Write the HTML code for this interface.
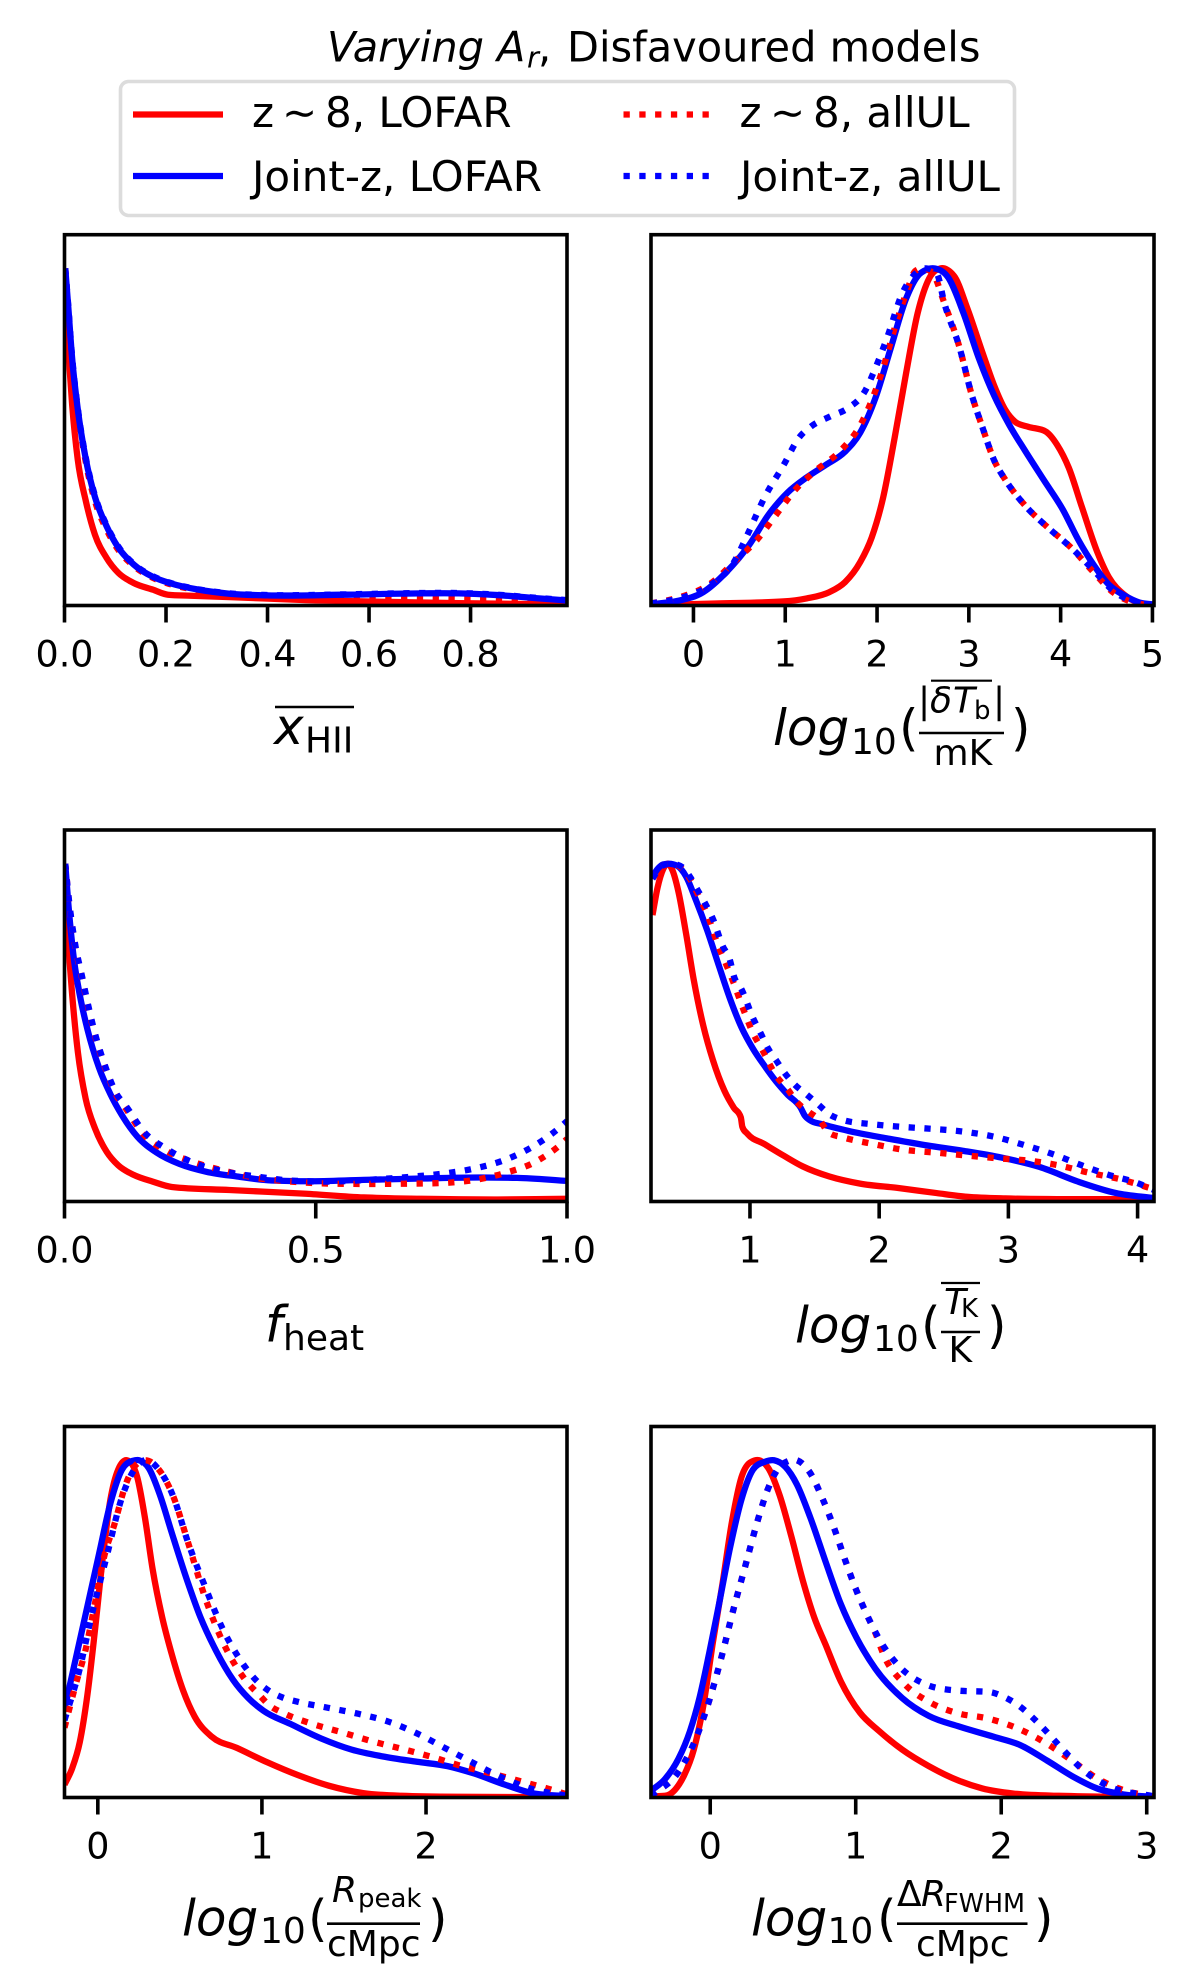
<!DOCTYPE html>
<html lang="en">
<head>
<meta charset="utf-8">
<title>Varying Ar, Disfavoured models</title>
<style>
html,body{margin:0;padding:0;background:#fff;width:1200px;height:1977px;overflow:hidden}
svg{display:block}
text{font-family:"DejaVu Sans","Liberation Sans",sans-serif;fill:#000}
.i{font-style:italic}
</style>
</head>
<body>
<svg id="figure" xmlns="http://www.w3.org/2000/svg" width="1200" height="1977" viewBox="0 0 1200 1977">
  <rect width="1200" height="1977" fill="#fff"/>
  <g id="panels"></g>

  <text y="61.5" font-size="41.5"><tspan class="i" x="327">Varying</tspan><tspan class="i" x="497">A</tspan><tspan class="i" x="527" dy="6" font-size="29">r</tspan><tspan x="538" dy="-6">,</tspan><tspan x="567">Disfavoured models</tspan></text>

  <g>
    <rect x="120.5" y="81.5" width="894" height="134" rx="8" fill="#fff" fill-opacity=".8" stroke="#dcdcdc" stroke-width="3.6"/>
    <g>
      <line x1="133" x2="223" y1="114.5" y2="114.5" stroke="#f00" stroke-width="6.3"/>
      <text y="127" font-size="42"><tspan x="252">z</tspan><tspan x="282">∼</tspan><tspan x="325">8, LOFAR</tspan></text>
    </g>
    <g>
      <line x1="133" x2="223" y1="176" y2="176" stroke="#00f" stroke-width="6.3"/>
      <text x="252" y="191" font-size="42">Joint-z, LOFAR</text>
    </g>
    <g>
      <line x1="623.5" x2="709" y1="114.5" y2="114.5" stroke="#f00" stroke-width="6.3" stroke-dasharray="6.3 9.5"/>
      <text y="127" font-size="42"><tspan x="739.5">z</tspan><tspan x="770">∼</tspan><tspan x="813">8, allUL</tspan></text>
    </g>
    <g>
      <line x1="623.5" x2="709" y1="176" y2="176" stroke="#00f" stroke-width="6.3" stroke-dasharray="6.3 9.5"/>
      <text x="740" y="191" font-size="42">Joint-z, allUL</text>
    </g>
  </g>

  <g>
    <text class="i" x="274" y="744" font-size="50">x</text>
    <text x="305" y="752.7" font-size="36">HII</text>
    <line x1="275" x2="354" y1="707" y2="707" stroke="#000" stroke-width="2.6"/>
  </g>
  <g>
    <text class="i" x="773" y="745" font-size="50">log</text>
    <text x="851" y="754" font-size="36">10</text>
    <text x="899" y="745" font-size="50">(</text>
    <text x="918" y="712.7" font-size="36">|</text>
    <text class="i" x="930" y="712.7" font-size="36">δ</text>
    <text class="i" x="953" y="712.7" font-size="36">T</text>
    <text x="974" y="719" font-size="26">b</text>
    <text x="993" y="712.7" font-size="36">|</text>
    <line x1="931" x2="992" y1="680.7" y2="680.7" stroke="#000" stroke-width="2.2"/>
    <line x1="919" x2="1004" y1="733" y2="733" stroke="#000" stroke-width="2.6"/>
    <text x="933.5" y="765" font-size="36">mK</text>
    <text x="1011" y="745" font-size="50">)</text>
  </g>
  <g>
    <text class="i" x="265" y="1341.5" font-size="50">f</text>
    <text x="283" y="1350" font-size="36">heat</text>
  </g>
  <g>
    <text class="i" x="795" y="1342.7" font-size="50">log</text>
    <text x="873" y="1351" font-size="36">10</text>
    <text x="921" y="1342.7" font-size="50">(</text>
    <text class="i" x="944" y="1314" font-size="36">T</text>
    <text x="961" y="1317" font-size="26">K</text>
    <line x1="941" x2="980" y1="1283" y2="1283" stroke="#000" stroke-width="2.2"/>
    <line x1="941" x2="980" y1="1332" y2="1332" stroke="#000" stroke-width="2.6"/>
    <text x="948.5" y="1362" font-size="36">K</text>
    <text x="987" y="1342.7" font-size="50">)</text>
  </g>
  <g>
    <text class="i" x="182" y="1935.5" font-size="50">log</text>
    <text x="260" y="1943" font-size="36">10</text>
    <text x="308" y="1935.5" font-size="50">(</text>
    <text class="i" x="332" y="1902" font-size="36">R</text>
    <text x="358" y="1907" font-size="26">peak</text>
    <line x1="327" x2="420" y1="1923.7" y2="1923.7" stroke="#000" stroke-width="2.6"/>
    <text x="327" y="1955.8" font-size="36">cMpc</text>
    <text x="428" y="1935.5" font-size="50">)</text>
  </g>
  <g>
    <text class="i" x="751" y="1935.5" font-size="50">log</text>
    <text x="827.5" y="1943" font-size="36">10</text>
    <text x="877" y="1935.5" font-size="50">(</text>
    <text x="897" y="1906" font-size="36">Δ</text>
    <text class="i" x="921" y="1906" font-size="36">R</text>
    <text x="944" y="1912" font-size="25.5">FWHM</text>
    <line x1="897" x2="1027.5" y1="1923.7" y2="1923.7" stroke="#000" stroke-width="2.6"/>
    <text x="916" y="1955.8" font-size="36">cMpc</text>
    <text x="1034" y="1935.5" font-size="50">)</text>
  </g>
</svg>

<script>
// Panel 1: mean ionized fraction
const xhiiTicks = [0, 0.2, 0.4, 0.6, 0.8];
const xhiiTickLabels = ["0.0", "0.2", "0.4", "0.6", "0.8"];
const xhiiLimits = [0, 0.99];
const xhiiRedSolidX = [.0005,.0015,.0075,.015,.026,.042,.06,.083,.106,.136,.174,.204,.249,.325,.475,.626,.777,.99];
const xhiiRedSolidY = [1,.9,.76,.597,.434,.31,.21,.141,.097,.067,.047,.032,.029,.025,.016,.011,.007,.003];
const xhiiBlueSolidX = [.0015,.0075,.015,.026,.042,.06,.083,.106,.136,.174,.211,.264,.325,.4,.551,.702,.777,.853,.928,.99];
const xhiiBlueSolidY = [1,.884,.734,.584,.434,.322,.235,.172,.122,.085,.065,.047,.035,.03,.032,.036,.036,.031,.022,.015];
const xhiiRedDotX = [.0015,.0075,.015,.026,.042,.06,.083,.106,.136,.174,.211,.264,.325,.4,.551,.702,.777,.853,.928,.96];
const xhiiRedDotY = [1,.88,.73,.58,.425,.31,.225,.165,.118,.082,.062,.045,.031,.025,.024,.022,.02,.018,.012,.008];
const xhiiBlueDotX = [.0015,.0075,.015,.026,.042,.06,.083,.106,.136,.174,.211,.264,.325,.4,.551,.702,.777,.853,.928,.99];
const xhiiBlueDotY = [1,.888,.738,.588,.438,.326,.238,.175,.124,.087,.066,.048,.036,.031,.033,.037,.037,.032,.023,.016];

// Panel 2: log10 of the mean brightness temperature
const tbTicks = [0, 1, 2, 3, 4, 5];
const tbTickLabels = ["0", "1", "2", "3", "4", "5"];
const tbLimits = [-0.4625, 5.017];
const tbRedSolidX = [-.4625,.233,.983,1.233,1.483,1.65,1.817,1.942,2.067,2.192,2.317,2.442,2.567,2.69,2.838,2.983,3.15,3.275,3.4,3.504,3.65,3.838,3.963,4.088,4.233,4.4,4.525,4.692,4.858,5.017];
const tbRedSolidY = [.001,.006,.012,.021,.04,.069,.129,.202,.321,.498,.69,.867,.97,1,.978,.882,.749,.653,.579,.545,.53,.516,.476,.409,.291,.158,.084,.032,.007,0];
const tbBlueSolidX = [-.4625,-.183,.108,.358,.608,.817,1.025,1.233,1.442,1.65,1.817,1.983,2.15,2.317,2.483,2.629,2.775,2.942,3.108,3.275,3.442,3.608,3.817,4.025,4.192,4.358,4.525,4.692,4.858,5.017];
const tbBlueSolidY = [.004,.013,.04,.099,.18,.269,.335,.38,.417,.456,.513,.616,.764,.911,.988,1,.973,.867,.734,.623,.535,.461,.372,.284,.195,.121,.062,.03,.009,.003];
const tbRedDotX = [-.4625,-.142,.192,.442,.692,.9,1.108,1.317,1.608,1.817,1.963,2.067,2.192,2.317,2.42,2.504,2.608,2.733,2.9,3.025,3.15,3.275,3.4,3.608,3.858,4.108,4.358,4.567,4.817,5.017];
const tbRedDotY = [.006,.025,.066,.129,.195,.269,.343,.397,.461,.535,.623,.705,.823,.926,.993,1,.985,.897,.764,.631,.527,.431,.372,.298,.232,.173,.099,.04,.007,0];
const tbBlueDotX = [-.4625,-.142,.192,.442,.588,.775,.983,1.15,1.275,1.483,1.692,1.858,1.983,2.108,2.275,2.442,2.525,2.65,2.733,2.9,3.025,3.15,3.275,3.4,3.608,3.858,4.108,4.358,4.567,4.817,5.017];
const tbBlueDotY = [.006,.022,.062,.129,.21,.321,.417,.498,.53,.56,.587,.631,.705,.793,.926,.99,1,.985,.897,.764,.631,.527,.431,.372,.298,.232,.173,.105,.045,.01,.002];

// Panel 3: heated fraction
const fheatTicks = [0, 0.5, 1];
const fheatTickLabels = ["0.0", "0.5", "1.0"];
const fheatLimits = [0, 1];
const fheatRedSolidX = [.0005,.0015,.0076,.0153,.0267,.042,.0611,.084,.1069,.1374,.1756,.2137,.3282,.4809,.5954,.7099,.8626,1];
const fheatRedSolidY = [1,.9,.76,.611,.441,.305,.215,.147,.107,.079,.059,.043,.034,.023,.012,.008,.006,.008];
const fheatBlueSolidX = [.0015,.0076,.0191,.0305,.0458,.0687,.0916,.1145,.145,.1832,.229,.2824,.3435,.4046,.4809,.5954,.7099,.8244,.9008,1];
const fheatBlueSolidY = [1,.882,.713,.611,.509,.396,.317,.255,.192,.145,.111,.088,.074,.063,.06,.064,.068,.071,.07,.061];
const fheatRedDotX = [.0015,.0092,.0214,.0344,.0473,.0611,.0802,.1031,.1221,.1565,.2061,.252,.3206,.3817,.4504,.5267,.6031,.6947,.7557,.8168,.8779,.9313,.9847,1];
const fheatRedDotY = [1,.885,.755,.665,.575,.49,.4,.315,.275,.2,.147,.119,.09,.07,.059,.053,.052,.053,.055,.064,.085,.113,.165,.185];
const fheatBlueDotX = [.0015,.0092,.0214,.0344,.0473,.0611,.0802,.1031,.1221,.1565,.2061,.2595,.3206,.3817,.4504,.5267,.6031,.6947,.7557,.8168,.8779,.9313,.9847,1];
const fheatBlueDotY = [1,.888,.76,.67,.58,.495,.404,.32,.283,.209,.153,.113,.088,.074,.062,.059,.064,.074,.083,.098,.124,.162,.218,.238];

// Panel 4: log10 of the kinetic temperature
const tkTicks = [1, 2, 3, 4];
const tkTickLabels = ["1", "2", "3", "4"];
const tkLimits = [0.234, 4.127];
const tkRedSolidX = [.2456,.284,.328,.367,.402,.447,.506,.565,.639,.713,.802,.876,.929,.941,.979,1.112,1.26,1.408,1.615,1.852,2.148,2.444,2.68,2.976,3.39,4.127];
const tkRedSolidY = [.848,.928,.984,1,.979,.916,.792,.656,.52,.419,.328,.277,.249,.221,.201,.17,.136,.104,.074,.053,.04,.025,.014,.009,.007,.007];
const tkBlueSolidX = [.2456,.284,.328,.373,.432,.506,.58,.669,.757,.846,.935,1.024,1.112,1.201,1.29,1.393,1.423,1.467,1.556,1.763,2.059,2.355,2.651,2.947,3.243,3.538,3.834,4.127];
const tkBlueSolidY = [.962,.984,.998,1,.995,.962,.894,.803,.701,.6,.515,.452,.402,.356,.317,.277,.255,.24,.229,.209,.187,.167,.15,.13,.102,.059,.025,.01];
const tkRedDotX = [.2456,.314,.388,.476,.535,.595,.683,.743,.817,.876,.941,1.024,1.098,1.201,1.29,1.364,1.453,1.541,1.609,1.719,1.956,2.192,2.429,2.68,2.917,3.154,3.39,3.627,3.864,4.127];
const tkRedDotY = [.956,.993,1,.986,.956,.911,.837,.769,.701,.645,.577,.498,.447,.373,.333,.294,.266,.24,.204,.19,.17,.153,.145,.136,.128,.121,.107,.085,.066,.036];
const tkBlueDotX = [.2456,.314,.388,.476,.535,.595,.654,.713,.787,.846,.876,.935,1.024,1.083,1.142,1.201,1.26,1.349,1.438,1.527,1.615,1.704,1.941,2.178,2.414,2.651,2.888,3.124,3.361,3.568,3.775,3.982,4.127];
const tkBlueDotY = [.956,.993,1,.99,.962,.922,.882,.837,.758,.713,.667,.628,.543,.498,.452,.419,.385,.345,.317,.288,.258,.243,.229,.221,.215,.207,.192,.167,.138,.107,.079,.057,.034];

// Panel 5: log10 of the peak bubble radius
const rpeakTicks = [0, 1, 2];
const rpeakTickLabels = ["0", "1", "2"];
const rpeakLimits = [-0.203, 2.859];
const rpeakRedSolidX = [-.203,-.156,-.11,-.063,-.016,.03,.077,.124,.177,.24,.287,.334,.392,.45,.52,.59,.695,.847,1.034,1.221,1.407,1.617,1.851,2.201,2.859];
const rpeakRedSolidY = [.038,.087,.164,.306,.502,.71,.884,.972,1,.95,.83,.677,.535,.426,.317,.24,.18,.147,.104,.066,.035,.013,.005,.002,.001];
const rpeakBlueSolidX = [-.203,-.133,-.063,.007,.077,.147,.205,.252,.31,.38,.45,.544,.625,.707,.824,.917,1.01,1.174,1.361,1.547,1.734,1.944,2.131,2.294,2.481,2.667,2.859];
const rpeakBlueSolidY = [.262,.415,.568,.721,.873,.972,.997,1,.977,.895,.786,.644,.535,.448,.349,.295,.257,.218,.175,.142,.122,.106,.093,.071,.038,.011,.004];
const rpeakRedDotX = [-.203,-.133,-.075,-.016,.042,.1,.17,.217,.287,.369,.462,.548,.66,.765,.859,.917,.98,1.046,1.128,1.309,1.489,1.676,1.856,2.037,2.219,2.399,2.586,2.772,2.859];
const rpeakRedDotY = [.207,.338,.437,.579,.721,.808,.928,.977,1,.974,.89,.759,.584,.458,.376,.338,.306,.273,.251,.218,.193,.166,.144,.12,.093,.071,.047,.022,.009];
const rpeakBlueDotX = [-.203,-.11,-.04,.054,.147,.229,.287,.369,.462,.548,.653,.761,.852,.968,1.041,1.123,1.216,1.403,1.589,1.776,1.949,2.114,2.282,2.446,2.632,2.859];
const rpeakBlueDotY = [.229,.382,.535,.715,.89,.977,1,.974,.89,.759,.626,.5,.42,.346,.317,.297,.284,.266,.248,.224,.189,.147,.104,.063,.027,.005];

// Panel 6: log10 of the bubble FWHM
const drTicks = [0, 1, 2, 3];
const drTickLabels = ["0", "1", "2", "3"];
const drLimits = [-0.407, 3.05];
const drRedSolidX = [-.407,-.31,-.244,-.179,-.113,-.047,.018,.084,.15,.215,.281,.334,.399,.478,.557,.636,.714,.793,.898,1.03,1.161,1.319,1.502,1.713,1.87,2.08,2.396,3.05];
const drRedSolidY = [.003,.005,.022,.066,.142,.273,.459,.633,.819,.95,.995,1,.977,.895,.775,.644,.535,.453,.344,.251,.197,.142,.093,.049,.027,.012,.005,.001];
const drBlueSolidX = [-.407,-.31,-.218,-.139,-.074,-.008,.058,.137,.215,.294,.373,.439,.517,.596,.688,.793,.898,1.004,1.135,1.319,1.502,1.713,1.949,2.133,2.317,2.501,2.658,2.842,3.05];
const drBlueSolidY = [.02,.055,.115,.197,.295,.426,.568,.742,.884,.972,.995,1,.98,.928,.83,.699,.573,.475,.382,.295,.242,.21,.18,.155,.109,.06,.027,.009,.002];
const drRedDotX = [-.407,-.218,-.118,-.008,.079,.158,.242,.326,.394,.504,.596,.683,.775,.854,.924,.998,1.082,1.13,1.2,1.332,1.502,1.699,1.91,2.112,2.304,2.488,2.658,2.855,3.05];
const drRedDotY = [.005,.076,.155,.286,.419,.555,.688,.821,.912,.991,1,.965,.883,.796,.708,.621,.537,.493,.415,.338,.284,.25,.234,.205,.162,.109,.057,.02,.002];
const drBlueDotX = [-.407,-.218,-.118,-.008,.079,.158,.242,.326,.394,.504,.596,.683,.775,.854,.924,.998,1.082,1.182,1.313,1.489,1.699,1.915,2.015,2.112,2.27,2.414,2.566,2.742,3.05];
const drBlueDotY = [.005,.076,.155,.286,.419,.555,.688,.821,.912,.991,1,.965,.883,.796,.708,.621,.537,.455,.383,.334,.317,.313,.299,.275,.214,.147,.08,.033,.003];

const densityLimits = [0, 1.1];

const NS = 'http://www.w3.org/2000/svg';
const panelsRoot = document.getElementById('panels');

function makeScale(domain, range) {
  return function (v) {
    return range[0] + (v - domain[0]) / (domain[1] - domain[0]) * (range[1] - range[0]);
  };
}

// Hermite path with three-point tangents, limited so runs stay free of wiggles
function curvePath(xs, ys, sx, sy) {
  const n = xs.length;
  const px = xs.map(sx);
  const py = ys.map(sy);
  const d = [];
  for (let i = 0; i < n - 1; i++) d.push((py[i + 1] - py[i]) / (px[i + 1] - px[i]));
  const m = [d[0]];
  for (let i = 1; i < n - 1; i++) {
    const h0 = px[i] - px[i - 1];
    const h1 = px[i + 1] - px[i];
    let t = (h1 * d[i - 1] + h0 * d[i]) / (h0 + h1);
    if (d[i - 1] * d[i] > 0) {
      const lim = 2.2 * Math.min(Math.abs(d[i - 1]), Math.abs(d[i]));
      if (Math.abs(t) > lim) t = Math.sign(t) * lim;
    }
    m.push(t);
  }
  m.push(d[n - 2]);
  let out = 'M' + px[0].toFixed(2) + ' ' + py[0].toFixed(2);
  for (let i = 0; i < n - 1; i++) {
    const h = (px[i + 1] - px[i]) / 3;
    out += 'C' + (px[i] + h).toFixed(2) + ' ' + (py[i] + m[i] * h).toFixed(2) + ' ' +
      (px[i + 1] - h).toFixed(2) + ' ' + (py[i + 1] - m[i + 1] * h).toFixed(2) + ' ' +
      px[i + 1].toFixed(2) + ' ' + py[i + 1].toFixed(2);
  }
  return out;
}

function drawPanel(cfg) {
  const g = document.createElementNS(NS, 'g');
  
  
  panelsRoot.appendChild(g);

  const sx = makeScale(cfg.xlim, [cfg.left, cfg.right]);
  const sy = makeScale(densityLimits, [cfg.bottom, cfg.top]);

  const clip = document.createElementNS(NS, 'clipPath');
  clip.setAttribute('id', 'clip-' + cfg.name);
  const clipRect = document.createElementNS(NS, 'rect');
  clipRect.setAttribute('x', cfg.left);
  clipRect.setAttribute('y', cfg.top);
  clipRect.setAttribute('width', cfg.right - cfg.left);
  clipRect.setAttribute('height', cfg.bottom - cfg.top);
  clip.appendChild(clipRect);
  g.appendChild(clip);

  const lines = document.createElementNS(NS, 'g');
  lines.setAttribute('clip-path', 'url(#clip-' + cfg.name + ')');
  
  
  g.appendChild(lines);

  cfg.series.forEach(function (s) {
    const p = document.createElementNS(NS, 'path');
    p.setAttribute('d', curvePath(s.x, s.y, sx, sy));
    p.setAttribute('fill', 'none');
    p.setAttribute('stroke', s.color);
    p.setAttribute('stroke-width', '6.3');
    p.setAttribute('stroke-linejoin', 'round');
    if (s.dotted) p.setAttribute('stroke-dasharray', '6.3 9.5');
    
    
    lines.appendChild(p);
  });

  cfg.ticks.forEach(function (t, i) {
    const x = sx(t);
    const tick = document.createElementNS(NS, 'line');
    tick.setAttribute('x1', x);
    tick.setAttribute('x2', x);
    tick.setAttribute('y1', cfg.bottom);
    tick.setAttribute('y2', cfg.bottom + 17);
    tick.setAttribute('stroke', '#000');
    tick.setAttribute('stroke-width', '3.6');
    
    
    g.appendChild(tick);
    const label = document.createElementNS(NS, 'text');
    label.setAttribute('x', x);
    label.setAttribute('y', cfg.bottom + 61);
    label.setAttribute('font-size', '36.5');
    label.setAttribute('text-anchor', 'middle');
    
    
    label.textContent = cfg.tickLabels[i];
    g.appendChild(label);
  });

  const frame = document.createElementNS(NS, 'rect');
  frame.setAttribute('x', cfg.left);
  frame.setAttribute('y', cfg.top);
  frame.setAttribute('width', cfg.right - cfg.left);
  frame.setAttribute('height', cfg.bottom - cfg.top);
  frame.setAttribute('fill', 'none');
  frame.setAttribute('stroke', '#000');
  frame.setAttribute('stroke-width', '3.6');
  
  
  g.appendChild(frame);
}

const RED = '#ff0000';
const BLUE = '#0000ff';

drawPanel({
  name: 'xhii', left: 64.5, right: 567, top: 234.7, bottom: 605.5,
  xlim: xhiiLimits, ticks: xhiiTicks, tickLabels: xhiiTickLabels,
  series: [
    {label: 'z8-lofar', color: RED, x: xhiiRedSolidX, y: xhiiRedSolidY},
    {label: 'z8-allul', color: RED, dotted: true, x: xhiiRedDotX, y: xhiiRedDotY},
    {label: 'joint-lofar', color: BLUE, x: xhiiBlueSolidX, y: xhiiBlueSolidY},
    {label: 'joint-allul', color: BLUE, dotted: true, x: xhiiBlueDotX, y: xhiiBlueDotY}
  ]
});
drawPanel({
  name: 'delta-tb', left: 651, right: 1154, top: 234.7, bottom: 605.5,
  xlim: tbLimits, ticks: tbTicks, tickLabels: tbTickLabels,
  series: [
    {label: 'z8-lofar', color: RED, x: tbRedSolidX, y: tbRedSolidY},
    {label: 'joint-lofar', color: BLUE, x: tbBlueSolidX, y: tbBlueSolidY},
    {label: 'z8-allul', color: RED, dotted: true, x: tbRedDotX, y: tbRedDotY},
    {label: 'joint-allul', color: BLUE, dotted: true, x: tbBlueDotX, y: tbBlueDotY}
  ]
});
drawPanel({
  name: 'fheat', left: 64.5, right: 567, top: 830, bottom: 1201.5,
  xlim: fheatLimits, ticks: fheatTicks, tickLabels: fheatTickLabels,
  series: [
    {label: 'z8-lofar', color: RED, x: fheatRedSolidX, y: fheatRedSolidY},
    {label: 'joint-lofar', color: BLUE, x: fheatBlueSolidX, y: fheatBlueSolidY},
    {label: 'z8-allul', color: RED, dotted: true, x: fheatRedDotX, y: fheatRedDotY},
    {label: 'joint-allul', color: BLUE, dotted: true, x: fheatBlueDotX, y: fheatBlueDotY}
  ]
});
drawPanel({
  name: 'tk', left: 651, right: 1154, top: 830, bottom: 1201.5,
  xlim: tkLimits, ticks: tkTicks, tickLabels: tkTickLabels,
  series: [
    {label: 'z8-lofar', color: RED, x: tkRedSolidX, y: tkRedSolidY},
    {label: 'joint-lofar', color: BLUE, x: tkBlueSolidX, y: tkBlueSolidY},
    {label: 'z8-allul', color: RED, dotted: true, x: tkRedDotX, y: tkRedDotY},
    {label: 'joint-allul', color: BLUE, dotted: true, x: tkBlueDotX, y: tkBlueDotY}
  ]
});
drawPanel({
  name: 'rpeak', left: 64.5, right: 567, top: 1426.5, bottom: 1797.5,
  xlim: rpeakLimits, ticks: rpeakTicks, tickLabels: rpeakTickLabels,
  series: [
    {label: 'z8-lofar', color: RED, x: rpeakRedSolidX, y: rpeakRedSolidY},
    {label: 'joint-lofar', color: BLUE, x: rpeakBlueSolidX, y: rpeakBlueSolidY},
    {label: 'z8-allul', color: RED, dotted: true, x: rpeakRedDotX, y: rpeakRedDotY},
    {label: 'joint-allul', color: BLUE, dotted: true, x: rpeakBlueDotX, y: rpeakBlueDotY}
  ]
});
drawPanel({
  name: 'dr-fwhm', left: 651, right: 1154, top: 1426.5, bottom: 1797.5,
  xlim: drLimits, ticks: drTicks, tickLabels: drTickLabels,
  series: [
    {label: 'z8-lofar', color: RED, x: drRedSolidX, y: drRedSolidY},
    {label: 'joint-lofar', color: BLUE, x: drBlueSolidX, y: drBlueSolidY},
    {label: 'z8-allul', color: RED, dotted: true, x: drRedDotX, y: drRedDotY},
    {label: 'joint-allul', color: BLUE, dotted: true, x: drBlueDotX, y: drBlueDotY}
  ]
});
</script>
</body>
</html>
